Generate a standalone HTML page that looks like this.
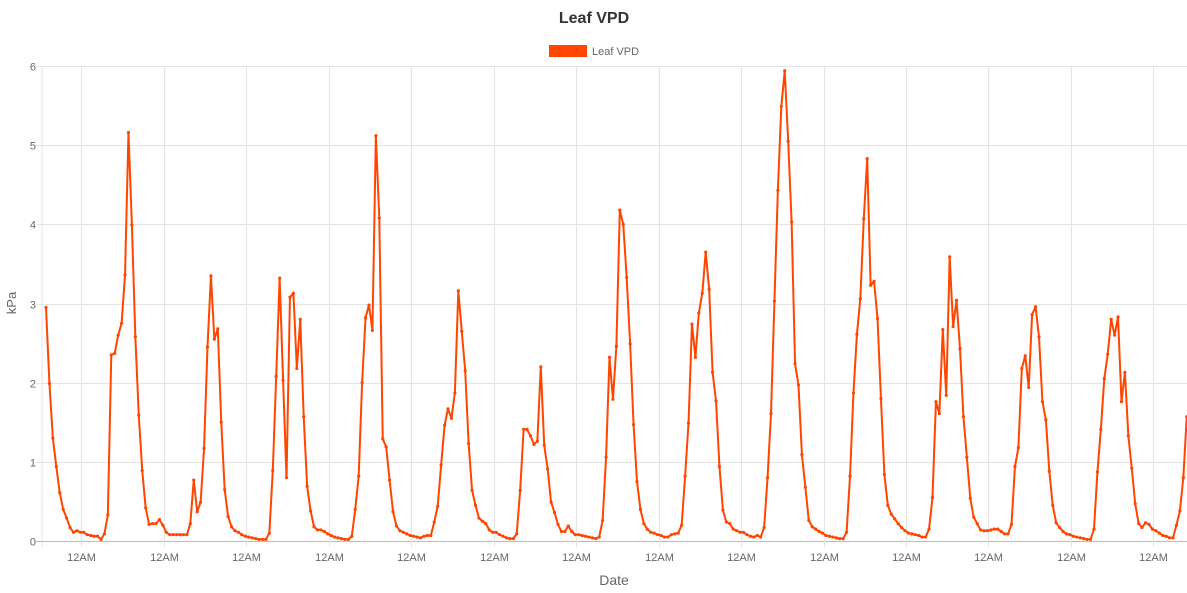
<!DOCTYPE html>
<html><head><meta charset="utf-8"><style>
html,body{margin:0;padding:0;background:#fff;}
svg{display:block;font-family:"Liberation Sans",Arial,sans-serif;}
</style></head><body>
<svg id="chart" width="1187" height="593" viewBox="0 0 1187 593">
<text x="594" y="23" text-anchor="middle" font-size="16" font-weight="bold" fill="#333">Leaf VPD</text>
<g>
<rect x="549" y="45" width="38" height="12" fill="#ff4500"/>
<text x="592" y="55" font-size="11" fill="#666">Leaf VPD</text>
</g>
<g id="grid"></g>
<g id="yticks"></g>
<g id="xticks"></g>
<text transform="translate(16,303) rotate(-90)" text-anchor="middle" font-size="13" fill="#666">kPa</text>
<text x="614" y="585" text-anchor="middle" font-size="14" fill="#666">Date</text>
<defs><clipPath id="clip"><rect x="42" y="0" width="1145" height="593"/></clipPath></defs>
<g id="series" clip-path="url(#clip)"></g>
</svg>
<script>
const vpdValues = [2.95,1.99,1.30,0.94,0.61,0.40,0.29,0.17,0.11,0.13,
0.11,0.11,0.08,0.07,0.06,0.06,0.02,0.09,0.33,2.35,
2.37,2.60,2.75,3.36,5.16,3.99,2.58,1.59,0.89,0.42,
0.21,0.22,0.22,0.27,0.20,0.11,0.08,0.08,0.08,0.08,
0.08,0.08,0.22,0.77,0.37,0.49,1.17,2.45,3.35,2.55,
2.68,1.50,0.65,0.31,0.18,0.13,0.11,
0.08,0.06,0.05,0.04,0.03,0.02,0.02,0.02,0.10,0.89,
2.08,3.32,2.03,0.80,3.08,3.13,2.18,2.80,1.57,0.69,
0.38,0.18,0.14,0.14,0.12,0.09,0.07,0.05,0.04,0.03,
0.02,0.02,0.06,0.40,0.82,2.00,2.82,2.98,2.66,5.12,
4.08,1.29,1.19,0.77,0.37,0.19,0.13,0.11,0.09,0.07,
0.06,0.05,0.04,0.06,0.07,
0.07,0.24,0.44,0.96,1.46,1.67,1.55,1.87,3.16,2.65,
2.15,1.23,0.64,0.45,0.29,0.25,0.22,0.14,0.11,0.11,
0.08,0.06,0.04,0.03,0.03,0.09,0.64,1.41,1.41,1.33,
1.22,1.26,2.20,1.21,0.91,0.49,0.36,0.21,0.12,0.12,
0.19,0.12,0.08,0.08,0.07,0.06,0.05,0.04,0.03,0.05,
0.26,1.06,2.32,1.79,2.46,4.18,
4.00,3.33,2.49,1.47,0.75,0.40,0.22,0.15,0.11,0.10,
0.08,0.07,0.05,0.05,0.08,0.09,0.10,0.20,0.82,1.49,
2.74,2.32,2.88,3.13,3.65,3.18,2.13,1.77,0.94,0.39,
0.24,0.22,0.15,0.13,0.11,0.11,0.08,0.06,0.05,0.07,
0.05,0.17,0.80,1.61,3.03,4.43,5.49,5.94,5.05,4.03,
2.24,1.97,1.09,0.68,0.26,
0.18,0.15,0.12,0.10,0.07,0.06,0.05,0.04,0.03,0.03,0.11,
0.82,1.87,2.61,3.06,4.07,4.83,3.23,3.28,2.81,1.80,
0.84,0.45,0.34,0.28,0.22,0.17,0.13,0.10,0.09,0.08,
0.07,0.05,0.05,0.15,0.55,1.76,1.61,2.67,1.84,3.59,
2.71,3.04,2.43,1.57,1.06,0.54,0.30,0.22,0.14,0.13,
0.13,0.14,0.15,0.15,
0.12,0.09,0.09,0.21,0.94,1.18,2.18,2.34,1.94,2.86,
2.96,2.58,1.76,1.53,0.88,0.45,0.23,0.17,0.12,0.09,
0.08,0.06,0.05,0.04,0.03,0.02,0.02,0.15,0.87,1.41,
2.05,2.36,2.80,2.60,2.83,1.76,2.13,1.33,0.92,0.47,
0.22,0.17,0.23,0.21,0.15,0.13,0.10,0.07,0.06,0.04,
0.04,0.20,0.38,0.80,1.57];
const yTickValues = [0,1,2,3,4,5,6];
const xTickLabels = ["12AM","12AM","12AM","12AM","12AM","12AM","12AM","12AM","12AM","12AM","12AM","12AM","12AM","12AM"];
const firstMidnightIndex = 10.3;
const hoursPerDay = 24;

const NS = "http://www.w3.org/2000/svg";
const plotL = 42, plotR = 1187, plotT = 66, plotB = 541;
const x0 = 46, step = 3.436;
function xScale(i){ return x0 + i * step; }
function yScale(v){ return plotB - (v / 6) * (plotB - plotT); }
function mk(tag, attrs, parent){
  const el = document.createElementNS(NS, tag);
  for (const k in attrs) el.setAttribute(k, attrs[k]);
  parent.appendChild(el);
  return el;
}
const grid = document.getElementById('grid');
const yt = document.getElementById('yticks');
const xt = document.getElementById('xticks');
const series = document.getElementById('series');

mk('line', {x1:plotL, x2:plotL, y1:plotT, y2:plotB+6, stroke:'#e4e4e4', 'stroke-width':1}, grid);
yTickValues.forEach(v => {
  const y = Math.round(yScale(v)) + 0.5;
  const gl = mk('line', {x1:plotL-6, x2:plotR, y1:y, y2:y, stroke: v===0 ? '#bbb' : '#e4e4e4', 'stroke-width':1}, grid);
  
  
  const t = mk('text', {x:36, y:y+4, 'text-anchor':'end', 'font-size':11, fill:'#666'}, yt);
  t.textContent = String(v);
  
  
});
xTickLabels.forEach((lab, d) => {
  const x = Math.round(xScale(firstMidnightIndex + d * hoursPerDay)) + 0.5;
  const gl = mk('line', {x1:x, x2:x, y1:plotT, y2:plotB+6, stroke:'#e4e4e4', 'stroke-width':1}, grid);
  
  
  const t = mk('text', {x:x, y:561, 'text-anchor':'middle', 'font-size':11, fill:'#666'}, xt);
  t.textContent = lab;
  
  
});
const pts = vpdValues.map((v, i) => xScale(i).toFixed(2) + ',' + yScale(v).toFixed(2));
const line = mk('polyline', {points: pts.join(' '), fill:'none', stroke:'#ff4500', 'stroke-width':2, 'stroke-linejoin':'round'}, series);


vpdValues.forEach((v, i) => {
  const c = mk('circle', {cx:xScale(i), cy:yScale(v), r:1.6, fill:'#ff4500'}, series);
  
  
});
</script>
</body></html>
